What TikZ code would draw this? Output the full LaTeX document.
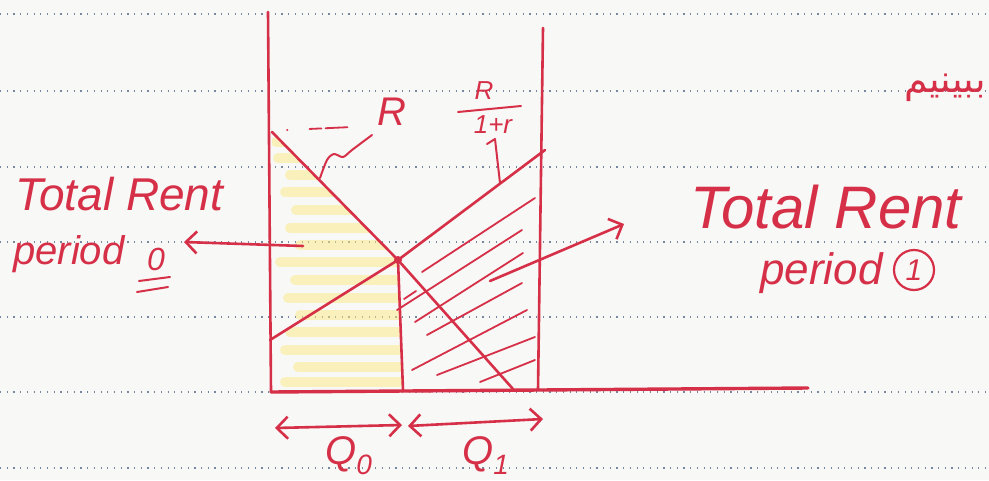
\documentclass[tikz,border=0pt]{standalone}
\usepackage{fontspec}
\setmainfont{Liberation Sans}
\newfontfamily\arabicfont[Script=Arabic]{DejaVu Sans}
\TeXXeTstate=1
\usetikzlibrary{arrows.meta}
\definecolor{ink}{RGB}{214,48,72}
\definecolor{paper}{RGB}{248,248,246}
\definecolor{hilite}{RGB}{250,234,130}
\definecolor{rulegray}{RGB}{120,135,160}
\begin{document}
\begin{tikzpicture}[x=1pt, y=-1pt]
        \tikzstyle{pen} = [draw=ink, line width=2.6pt, line cap=round, line join=round]
        \tikzstyle{hand} = [text=ink, inner sep=0pt, anchor=base west]
        \tikzstyle{barb} = [>={Straight Barb[length=11pt, width=22pt]}]
        \tikzstyle{ruled} = [draw=rulegray, line width=1.2pt, dash pattern=on 1.2pt off 5.5pt]
        % paper and ruling
        \fill[paper] (0,0) rectangle (989,480);
        \useasboundingbox (0,0) rectangle (989,480);
        \foreach \y in {14,91,167,242,317,392,468}
          \draw[ruled] (0,\y) -- (989,\y);
        % points of the chart
        \coordinate (Ytop) at (268,12);
        \coordinate (O) at (271,392);
        \coordinate (Xend) at (808,388);
        \coordinate (Wtop) at (543,28);
        \coordinate (Wbot) at (538,390);
        \coordinate (Rtop) at (272,132);
        \coordinate (Rbot) at (513,389);
        \coordinate (Dbot) at (270,340);
        \coordinate (Dtop) at (545,150);
        \coordinate (E) at (398,260);
        \coordinate (Eb) at (403,390);
        % yellow marker, period 0
        \begin{scope}
          \clip (Rtop) -- (E) -- (Eb) -- (O) -- cycle;
          \foreach \y/\a/\b in {142/276/300, 158/278/330, 175/290/345, 192/285/358,
              210/296/372, 228/290/388, 245/300/400, 262/280/400, 280/295/400,
              298/288/400, 315/300/400, 332/290/400, 350/285/400, 367/298/400, 382/285/400}
            \draw[hilite, line width=10pt, line cap=round, opacity=0.5] (\a,\y) -- (\b,\y);
        \end{scope}
        % hatching, period 1
        \foreach \a/\b/\c/\d in {422/272/535/198, 404/299/416/291, 397/310/522/230,
            415/322/523/253, 427/335/522/283, 412/370/527/310, 437/375/535/337, 480/382/535/360}
          \draw[pen, line width=1.8pt] (\a,\b) -- (\c,\d);
        % axes and lines
        \draw[pen] (Ytop) -- (O);
        \draw[pen, line width=3.4pt] (O) -- (Xend);
        \draw[pen] (Wtop) -- (Wbot);
        \draw[pen] (Rtop) -- (E) -- (Rbot);
        \draw[pen] (Dbot) -- (E) -- (Dtop);
        \draw[pen] (E) -- (Eb);
        \fill[ink] (E) circle (4pt);
        \draw[pen, line width=1.8pt, dash pattern=on 0.5pt off 22pt on 12pt off 4pt on 22pt off 30pt] (287,130) -- (352,127);
        % labels of the curves
        \node[hand, anchor=center, font=\fontsize{40}{44}\selectfont\itshape] (Rlab) at (392,112) {R};
        \node[hand, anchor=center, font=\fontsize{26}{28}\selectfont\itshape] (Rnum) at (484,91) {R};
        \node[hand, anchor=center, font=\fontsize{26}{28}\selectfont\itshape] (Rden) at (493,125) {1+r};
        \draw[pen, line width=2pt] (458,112) -- (521,106);
        \coordinate (Rleg) at (320,178);
        \coordinate (Dleg) at (500,183);
        \draw[pen, line width=2pt] plot[smooth] coordinates {(Rleg) (327,160) (334,154) (343,157) (352,150) (372,135)};
        \draw[pen, line width=2pt] (487,144) -- (495,139) -- (Dleg);
        % left label, period 0
        \node[hand, font=\fontsize{46}{50}\selectfont\itshape] (tl) at (15,210) {Total Rent};
        \node[hand, font=\fontsize{40}{44}\selectfont\itshape] (pl) at (13,264) {period};
        \node[hand, anchor=center, font=\fontsize{32}{34}\selectfont\itshape] (zero) at (156,259) {0};
        \draw[pen, line width=2pt] (139,281) -- (170,277);
        \draw[pen, line width=2pt] (137,292) -- (168,287);
        \coordinate (lsrc) at (303,246);
        \coordinate (ldst) at (184,242);
        \draw[pen, barb, ->] (lsrc) -- (ldst);
        % right label, period 1
        \node[hand, font=\fontsize{60}{64}\selectfont\itshape] (tr) at (690,228) {Total Rent};
        \node[hand, font=\fontsize{44}{48}\selectfont\itshape] (pr) at (760,284) {period};
        \node[draw=ink, line width=2.2pt, circle, minimum size=40pt, inner sep=0pt, text=ink,
              font=\fontsize{30}{32}\selectfont\itshape] (one) at (914,270) {1};
        \coordinate (rsrc) at (490,281);
        \coordinate (rdst) at (624,224);
        \draw[pen, barb, ->] (rsrc) -- (rdst);
        % quantities
        \coordinate (q0a) at (275,428);
        \coordinate (q0b) at (402,425);
        \coordinate (q1a) at (408,426);
        \coordinate (q1b) at (543,419);
        \draw[pen, barb, <->] (q0a) -- (q0b);
        \draw[pen, barb, <->] (q1a) -- (q1b);
        \node[hand, font=\fontsize{40}{44}\selectfont\itshape] (Q0) at (325,464) {Q\textsubscript{0}};
        \node[hand, font=\fontsize{40}{44}\selectfont\itshape] (Q1) at (462,464) {Q\textsubscript{1}};
        % note in the margin
        \node[hand, anchor=base east, font=\fontsize{38}{42}\selectfont] (note) at (986,92) {\arabicfont\beginR ببینیم\endR};
      \end{tikzpicture}
\end{document}
